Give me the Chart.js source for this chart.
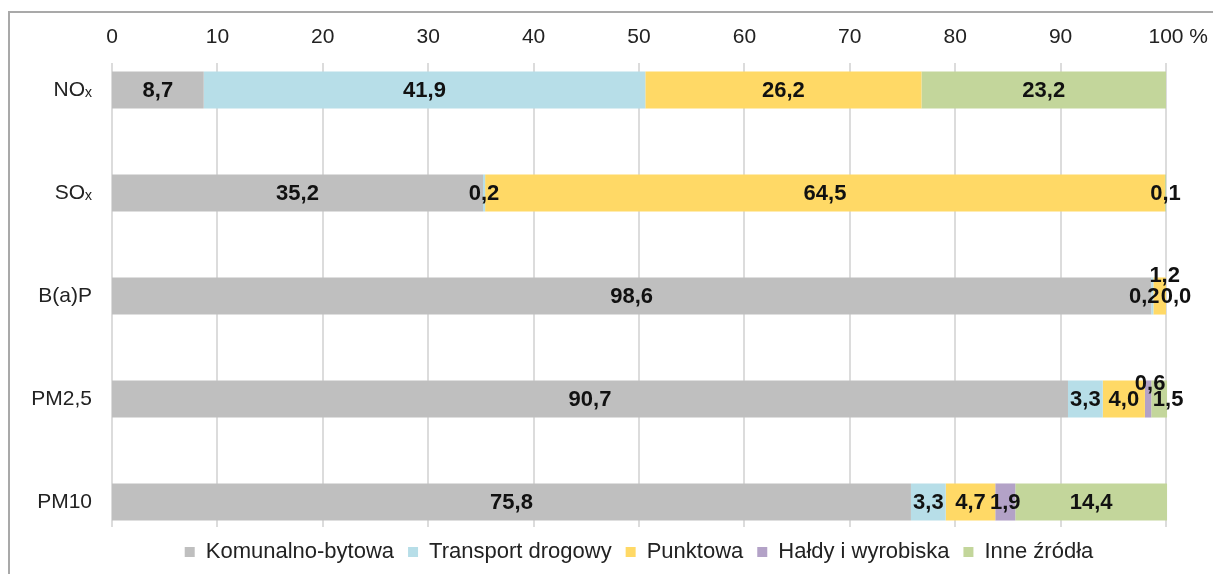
<!DOCTYPE html>
<html>
<head>
<meta charset="utf-8">
<script src="https://cdn.jsdelivr.net/npm/chart.js@4/dist/chart.umd.min.js"></script>
<style>
    html, body { margin: 0; padding: 0; background: #fff; }
    #wrap { position: relative; width: 1213px; height: 574px; overflow: hidden; }
    #frame {
        position: absolute; left: 8px; top: 11px; width: 1300px; height: 700px;
        border-left: 2px solid #a9a9a9; border-top: 2px solid #a9a9a9;
    }
    #chart { position: absolute; left: 0; top: 0; }
</style>
</head>
<body>
<div id="wrap">
    <div id="frame"></div>
    <canvas id="chart" width="1213" height="574"></canvas>
</div>
<script>
// Kategorie (zanieczyszczenia)
const categories = ['NOₓ', 'SOₓ', 'B(a)P', 'PM2,5', 'PM10'];

// Udział źródeł emisji [%]
const komunalnoBytowa = [8.7, 35.2, 98.6, 90.7, 75.8];
const transportDrogowy = [41.9, 0.2, 0.2, 3.3, 3.3];
const punktowa = [26.2, 64.5, 1.2, 4.0, 4.7];
const haldyIWyrobiska = [null, null, 0.0, 0.6, 1.9];
const inneZrodla = [23.2, 0.1, null, 1.5, 14.4];

const seriesNames = ['Komunalno-bytowa', 'Transport drogowy', 'Punktowa', 'Hałdy i wyrobiska', 'Inne źródła'];
const xTicks = [0, 10, 20, 30, 40, 50, 60, 70, 80, 90, 100];

const colors = ['#bfbfbf', '#b7dee8', '#ffd966', '#b3a2c7', '#c3d69b'];
const FONT = "'Liberation Sans', Arial, sans-serif";

// Przesunięcia etykiet, które w oryginale zostały odsunięte ręcznie
const labelShift = {
    '1-2': { dx: -8, dy: 0 },
    '2-2': { dx: 5, dy: -21 },
    '3-2': { dx: 10, dy: 0 },
    '3-3': { dx: 2, dy: -16 },
    '4-3': { dx: 9, dy: 0 }
};

// Linie siatki tylko w obrębie słupków
const gridPlugin = {
    id: 'shortGrid',
    beforeDatasetsDraw(chart) {
        const { ctx, scales: { x, y } } = chart;
        const top = y.getPixelForValue(0) - 27;
        const bottom = y.getPixelForValue(categories.length - 1) + 25;
        ctx.save();
        ctx.strokeStyle = '#dcdcdc';
        ctx.lineWidth = 2;
        xTicks.forEach(v => {
            const px = Math.round(x.getPixelForValue(v));
            ctx.beginPath();
            ctx.moveTo(px, top);
            ctx.lineTo(px, bottom);
            ctx.stroke();
        });
        ctx.restore();
    }
};

// Etykiety wartości i znak % przy osi
const valuePlugin = {
    id: 'values',
    afterDatasetsDraw(chart) {
        const { ctx, scales: { x } } = chart;
        ctx.save();
        ctx.font = 'bold 22px ' + FONT;
        ctx.fillStyle = '#111';
        ctx.textAlign = 'center';
        ctx.textBaseline = 'middle';
        chart.data.datasets.forEach((ds, di) => {
            const meta = chart.getDatasetMeta(di);
            meta.data.forEach((bar, i) => {
                const v = ds.data[i];
                if (v === null || v === undefined) return;
                const { x: bx, base, y: by } = bar.getProps(['x', 'base', 'y'], true);
                const shift = labelShift[di + '-' + i] || { dx: 0, dy: 0 };
                const text = v.toFixed(1).replace('.', ',');
                ctx.fillText(text, (bx + base) / 2 + shift.dx, by + 1 + shift.dy);
            });
        });

        // " %" obok etykiety 100
        ctx.font = '21px ' + FONT;
        ctx.fillStyle = '#222';
        ctx.textAlign = 'left';
        const px = x.getPixelForValue(100) + ctx.measureText('100').width / 2;
        ctx.fillText(' %', px, 37);
        ctx.restore();
    }
};

const datasetValues = [komunalnoBytowa, transportDrogowy, punktowa, haldyIWyrobiska, inneZrodla];

new Chart(document.getElementById('chart'), {
    type: 'bar',
    data: {
        labels: categories,
        datasets: datasetValues.map((vals, i) => ({
            label: seriesNames[i],
            data: vals,
            backgroundColor: colors[i],
            borderWidth: 0,
            categoryPercentage: 1,
            barPercentage: 0.36,
            clip: false
        }))
    },
    options: {
        indexAxis: 'y',
        responsive: false,
        animation: false,
        layout: { padding: { top: 24, right: 47, bottom: 1, left: 0 } },
        scales: {
            x: {
                position: 'top',
                stacked: true,
                min: 0,
                max: 100,
                grid: { display: false, drawTicks: false },
                border: { display: false },
                afterFit: s => {
                    s.height = 66;
                    s.paddingLeft = 0;
                    s.paddingRight = 0;
                },
                ticks: {
                    stepSize: 10,
                    padding: 40,
                    color: '#222',
                    font: { family: FONT, size: 21 },
                    callback: v => String(v)
                }
            },
            y: {
                stacked: true,
                offset: false,
                grid: { display: false, drawTicks: false },
                border: { display: false },
                afterFit: s => { s.width = 112; },
                ticks: {
                    padding: 20,
                    color: '#222',
                    font: { family: FONT, size: 21 }
                }
            }
        },
        plugins: {
            legend: {
                position: 'bottom',
                fullSize: false,
                title: { display: true, text: '', font: { size: 10 }, padding: { top: 13, bottom: 0 } },
                labels: {
                    boxWidth: 10,
                    boxHeight: 10,
                    padding: 14,
                    color: '#222',
                    font: { family: FONT, size: 22 }
                }
            },
            tooltip: { enabled: false }
        }
    },
    plugins: [gridPlugin, valuePlugin]
});
</script>
</body>
</html>
